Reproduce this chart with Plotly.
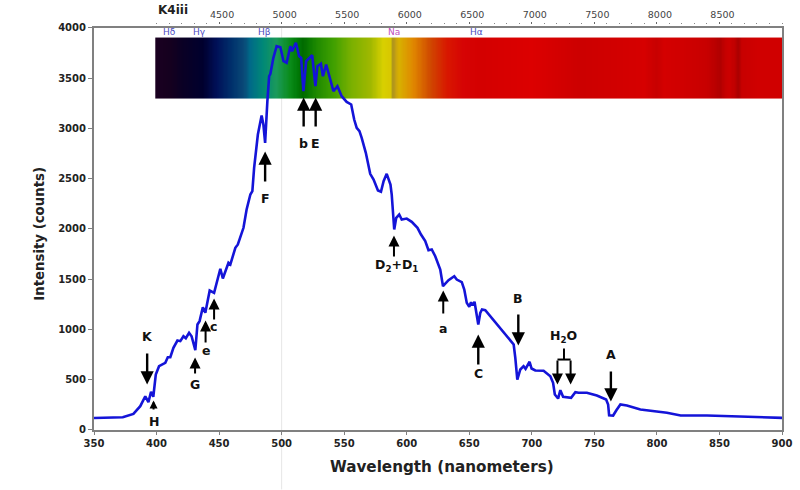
import numpy as np
import plotly.graph_objects as go

wavelength = [350,373,381.5,387,391,393.5,395.6,397.4,399.4,402,407,409,411,413.5,416.7,419,421.5,423.4,426,428,431,432.7,434.4,437,439,442.5,446,448,451,453,457.5,459,463,465,469.5,472,475,476.6,478,481,484,485.4,486.8,488.6,490,491,493.4,496,499,501.5,504,507,508.4,511.4,514,515.6,517.4,519.6,522.8,524.4,527,528.6,531.4,533,535.6,538.8,541.4,544.6,548,552,555.6,558,560,562.2,564,567.3,569,570.8,573.5,577,579.4,581.5,584,587,588,589,590,591.6,594,596,600,604,608.6,611.4,614.8,617.4,620,622.8,626.8,629,633.4,638,640,644,646,648,650,651.4,652.6,654.2,655.6,657.2,658.8,660.2,662.8,666.8,674.8,681.5,685.5,686.8,688.4,690.8,693.4,695,698.2,699.8,702.8,709.4,714.8,717,718.4,721,722.8,725,731.4,734.8,737.4,744,752,759.4,761,761.8,765,767.6,770.8,776,786.8,808,819,840,866.8,900]
intensity = [120,127,160,237,336,277,380,330,552,635,668,724,724,818,890,884,933,913,967,933,794,1050,1083,1222,1166,1388,1365,1465,1604,1507,1664,1647,1813,1846,2012,2194,2343,2376,2609,2940,3129,3040,2857,3272,3520,3544,3703,3819,3809,3670,3654,3819,3769,3853,3719,3703,3371,3670,3709,3729,3421,3620,3644,3520,3637,3488,3371,3421,3321,3265,3239,3089,3007,2973,2907,2758,2642,2549,2492,2383,2370,2476,2549,2443,2343,2111,1995,2111,2144,2094,2104,2071,2012,1945,1879,1789,1796,1729,1597,1431,1491,1530,1497,1471,1398,1265,1226,1272,1239,1276,1182,1050,1166,1199,1192,1132,1007,917,851,718,502,602,635,609,679,612,592,589,535,470,353,313,396,330,320,376,370,370,343,303,254,147,144,197,254,244,204,171,144,144,134,121]

band_wl = [399,411,421,437,448,460,470,475,485,496,507,513,517,522,528,541,555,571,581,587,589,591,594,605,619,632,645,660,700,740,790,800,806,820,840,851,854,858,862,865,868,880,900]
band_colors = ["#1a0020","#15001f","#0a0025","#00002e","#001058","#00306c","#0a4a78","#006a88","#008878","#1b9a5a","#0a8c1a","#007a08","#006a00","#0a7a00","#1f8a00","#3fa000","#78b000","#a0b800","#d8d000","#d8c800","#a89020","#c8a410","#d8b000","#e08800","#d04800","#d81800","#d60404","#d40000","#dc0000","#cc0000","#d60000","#c80000","#d40000","#d00000","#c80000","#b00000","#c40000","#cc0000","#c00000","#ac0000","#c80000","#d00000","#d00000"]
band_bottom, band_top = 3300, 3905

y_ticks = [0,500,1000,1500,2000,2500,3000,3500,4000]
x_ticks = [350,400,450,500,550,600,650,700,750,800,850,900]
top_ticks = [4500,5000,5500,6000,6500,7000,7500,8000,8500]
top_minor = list(range(4000, 9001, 100))

arrow_wl   = [392.5,397.6,430.8,439.2,446,486.8,517.6,527.2,589.8,629.2,657.2,689.2,720.5,731,763.2]
arrow_tail = [771,194,552,861,1090,2463,3010,3010,1716,1149,642,1159,701,701,592]
arrow_head = [453,294,721,1090,1308,2771,3308,3308,1935,1388,950,841,453,453,284]

label_text = ["K","H","G","e","c","F","b","E","D<sub>2</sub>+D<sub>1</sub>","a","C","B","H<sub>2</sub>O","A"]
label_wl   = [392.5,397.6,430.8,439.2,445.2,486.8,517.6,527.2,591.6,629.2,657.2,689.2,725,763.2]
label_val  = [930,85,453,791,1030,2303,2851,2851,1637,1010,562,1308,930,751]

bracket_wl  = [720.5,731,None,725.7,725.7]
bracket_val = [701,701,None,701,811]

line_names = ["Hδ","Hγ","Hβ","Na","Hα"]
line_wl    = [410,434,486,590,656]
line_col   = ["#4a4ac0","#4a4ac0","#4a4ac0","#c050c0","#4a4ac0"]
line_val   = 3965

FONT = "DejaVu Sans"
frame = "#808080"
W, H = 800, 490
ml, mr, mt, mb = 94, 18, 24, 59.5

span = band_wl[-1] - band_wl[0]
colorscale = [[(w - band_wl[0]) / span, c] for w, c in zip(band_wl, band_colors)]
grid = np.arange(band_wl[0], band_wl[-1] + 0.5, 1.0)
edges = np.append(grid - 0.5, grid[-1] + 0.5)
edges[0] = band_wl[0]
edges[-1] = band_wl[-1]

fig = go.Figure()
fig.add_trace(go.Heatmap(x=edges, y=[band_bottom, band_top], z=[grid.tolist()],
                         colorscale=colorscale, zmin=band_wl[0], zmax=band_wl[-1],
                         showscale=False, hoverinfo="skip"))
fig.add_trace(go.Scatter(x=wavelength, y=intensity, mode="lines",
                         line=dict(color="#1414d8", width=2.6, shape="linear"), showlegend=False))
fig.add_trace(go.Scatter(x=bracket_wl, y=bracket_val, mode="lines",
                         line=dict(color="black", width=2), showlegend=False))
# invisible trace keeps the upper angstrom axis on the page
fig.add_trace(go.Scatter(x=top_ticks, y=[None]*len(top_ticks), xaxis="x2", mode="lines", showlegend=False))

plot_h = H - mt - mb
plot_w = W - ml - mr
y_top = 1 - 4 / plot_h

ann = []
for i, (w, t, h) in enumerate(zip(arrow_wl, arrow_tail, arrow_head)):
    big = abs(h - t) > 250
    ann.append(dict(x=w, y=h, ax=w, ay=t, xref="x", yref="y", axref="x", ayref="y", text=" ",
                    font=dict(size=1), borderpad=0,
                    showarrow=True, arrowhead=2, arrowsize=1.1 if i != 1 else 0.8,
                    arrowwidth=2.4 if big else 2, arrowcolor="black", standoff=0))
for s, w, v in zip(label_text, label_wl, label_val):
    ann.append(dict(x=w, y=v, xref="x", yref="y", text=f"<b>{s}</b>", showarrow=False,
                    font=dict(family=FONT, size=12.5, color="#111"), yanchor="middle"))
for s, w, c in zip(line_names, line_wl, line_col):
    ann.append(dict(x=w, y=line_val, xref="x", yref="y", text=s, showarrow=False,
                    font=dict(family=FONT, size=9, color=c), yanchor="middle"))
ann.append(dict(x=(172.5 - ml) / plot_w, y=(H - mb - 10) / plot_h, xref="paper", yref="paper",
                text="<b>K4iii</b>", showarrow=False, font=dict(family=FONT, size=12, color="#222"),
                yanchor="middle", xanchor="center"))
ann.append(dict(x=(442.5 - ml) / plot_w, y=(H - mb - 467.5) / plot_h, xref="paper", yref="paper",
                text="<b>Wavelength (nanometers)</b>", showarrow=False,
                font=dict(family=FONT, size=15.2, color="#222"), xanchor="center", yanchor="middle"))
ann.append(dict(x=(40 - ml) / plot_w, y=(H - mb - 234) / plot_h, xref="paper", yref="paper",
                text="<b>Intensity (counts)</b>", showarrow=False, textangle=-90,
                font=dict(family=FONT, size=13.3, color="#222"), xanchor="center", yanchor="middle"))

fig.update_layout(
    width=W, height=H, margin=dict(l=ml, r=mr, t=mt, b=mb, pad=0, autoexpand=False),
    paper_bgcolor="white", plot_bgcolor="white", showlegend=False,
    font=dict(family=FONT, color="#222"), annotations=ann,
    shapes=[dict(type="line", xref="x", yref="paper", x0=500, x1=500, y0=-mb / plot_h, y1=y_top,
                 line=dict(color="#e6e6e6", width=1), layer="below")],
    xaxis=dict(range=[350, 900], domain=[0, 1], tickvals=x_ticks, showgrid=False, zeroline=False,
               showline=True, linecolor=frame, linewidth=2, mirror=True,
               ticks="outside", ticklen=3, tickcolor=frame, tickwidth=1,
               tickfont=dict(family=FONT, size=10, color="#222", weight="bold")),
    xaxis2=dict(range=[3500, 9000], overlaying="x", anchor="free", position=1,
                side="top", tickvals=top_ticks, showgrid=False, zeroline=False, showline=False,
                ticks="outside", ticklen=2, tickcolor="#666", ticklabelshift=3,
                minor=dict(tickmode="array", tickvals=top_minor, ticks="outside", ticklen=1,
                           tickcolor="#888", showgrid=False),
                tickfont=dict(family=FONT, size=9.5, color="#444")),
    yaxis=dict(range=[0, 4000], domain=[0, y_top], tickvals=y_ticks, showgrid=False, zeroline=False,
               showline=True, linecolor=frame, linewidth=2, mirror=True,
               ticks="outside", ticklen=4, tickcolor=frame, tickwidth=1,
               tickfont=dict(family=FONT, size=10, color="#222", weight="bold")),
)
fig.write_html("out.html", config=dict(displayModeBar=False),
               post_script="document.body.style.margin='0';")
